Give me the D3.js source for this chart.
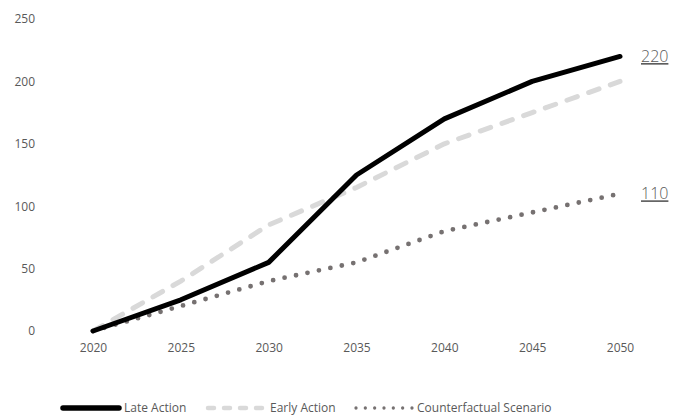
<!DOCTYPE html>
<html>
<head>
<meta charset="utf-8">
<script src="https://cdn.jsdelivr.net/npm/d3@7"></script>
<style>
  html, body { margin: 0; padding: 0; background: #fff; }
  svg { display: block; font-family: "Open Sans", "Noto Sans", sans-serif; }
</style>
</head>
<body>
<svg id="chart" width="676" height="417"></svg>
<script>
// Scenario trajectories, 2020–2050
const years = [2020, 2025, 2030, 2035, 2040, 2045, 2050];
const lateAction = [0, 25, 55, 125, 170, 200, 220];
const earlyAction = [0, 40, 85, 115, 150, 175, 200];
const counterfactual = [0, 20, 40, 55, 80, 95, 110];
const yTicks = [0, 50, 100, 150, 200, 250];
const endLabels = [
  { series: "Late Action", value: 220 },
  { series: "Counterfactual Scenario", value: 110 }
];

const series = [
  { name: "Late Action", values: lateAction, color: "#000000", width: 5, dash: null,
    legend: { x0: 63, x1: 119, width: 5.5, dash: null } },
  { name: "Early Action", values: earlyAction, color: "#d9d9d9", width: 5, dash: "11,12",
    legend: { x0: 208, x1: 265, width: 4.5, dash: "6,10" } },
  { name: "Counterfactual Scenario", values: counterfactual, color: "#767171", width: 4.8, dash: "0,11.7",
    legend: { x0: 356, x1: 412, width: 3.3, dash: "0,9.33" } }
];

const svg = d3.select("#chart");

const x = d3.scalePoint().domain(years).range([93, 620]);
const y = d3.scaleLinear().domain([0, 250]).range([331, 19]);

const textColor = "#595959";

// Y axis labels (no axis line or gridlines)
const yAxis = d3.axisLeft(y).tickValues(yTicks).tickSize(0).tickPadding(0);
const gy = svg.append("g").attr("transform", "translate(35,0)").call(yAxis);
gy.select(".domain").remove();
gy.selectAll("text").attr("fill", textColor).style("font-size", "12px")
  .style("font-family", "'Open Sans', 'Noto Sans', sans-serif");

// X axis labels
const xAxis = d3.axisBottom(x).tickSize(0).tickPadding(0);
const gx = svg.append("g").attr("transform", "translate(0,343)").call(xAxis);
gx.select(".domain").remove();
gx.selectAll("text").attr("fill", textColor).style("font-size", "12px")
  .style("font-family", "'Open Sans', 'Noto Sans', sans-serif");

const line = d3.line().x((d, i) => x(years[i])).y(d => y(d));

// Counterfactual underneath, then early action, late action on top
const drawOrder = [series[2], series[1], series[0]];
svg.append("g").selectAll("path").data(drawOrder).join("path")
  .attr("d", d => line(d.values))
  .attr("fill", "none")
  .attr("stroke", d => d.color)
  .attr("stroke-width", d => d.width)
  .attr("stroke-dasharray", d => d.dash)
  .attr("stroke-linecap", "round")
  .attr("stroke-linejoin", "round");

// End-of-line value labels, underlined
const lastYear = years[years.length - 1];
svg.append("g").selectAll("text").data(endLabels).join("text")
  .attr("x", x(lastYear) + 21)
  .attr("y", d => y(d.value))
  .attr("dy", "0.35em")
  .attr("fill", textColor)
  .style("font-size", "16px")
  .style("font-weight", "300")
  .style("text-decoration", "underline")
  .text(d => d.value);

// Legend
const lg = svg.append("g");
series.forEach(s => {
  const L = s.legend;
  lg.append("line")
    .attr("x1", L.x0).attr("x2", L.x1)
    .attr("y1", 408).attr("y2", 408)
    .attr("stroke", s.color)
    .attr("stroke-width", L.width)
    .attr("stroke-dasharray", L.dash)
    .attr("stroke-linecap", "round");
  lg.append("text")
    .attr("x", L.x1 + 5)
    .attr("y", 408)
    .attr("dy", "0.35em")
    .attr("fill", textColor)
    .style("font-size", "12px")
    .text(s.name);
});
</script>
</body>
</html>
